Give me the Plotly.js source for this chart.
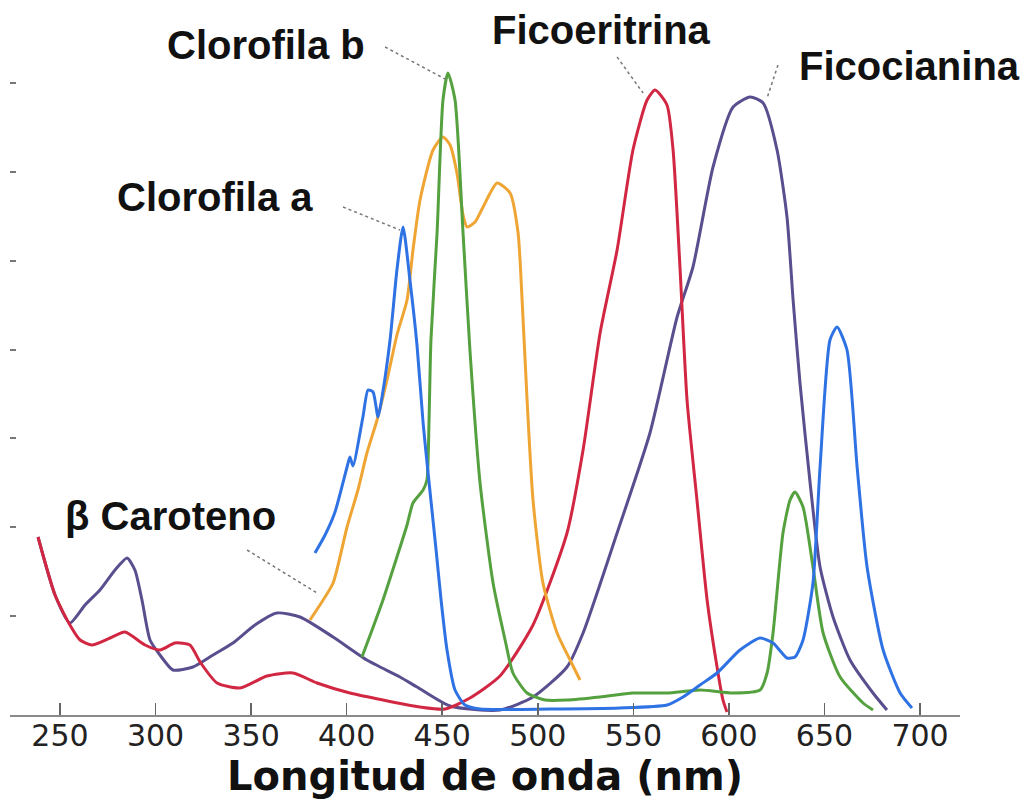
<!DOCTYPE html>
<html>
<head>
<meta charset="utf-8">
<script src="https://cdn.plot.ly/plotly-3.0.1.min.js"></script>
<style>
  html, body { margin: 0; padding: 0; background: #ffffff; }
  #chart { width: 1033px; height: 812px; }
</style>
</head>
<body>
<div id="chart"></div>
<script>
// ---- Data (wavelength in nm, relative absorbance) ----
const tickWavelengths = [250, 300, 350, 400, 450, 500, 550, 600, 650, 700];
const tickLabels = ['250', '300', '350', '400', '450', '500', '550', '600', '650', '700'];
const absTicks = [0.99, 1.88, 2.77, 3.65, 4.54, 5.43, 6.32];

// Clorofila a (blue)
const wlClorofilaA = [383.4, 388.7, 393.9, 400.2, 401.7, 403.3, 408.5, 411.2, 413.8, 416.4, 418.5, 422.7, 426.3, 429.5, 433.1, 436.8, 440.0, 442.6, 446.8, 449.4, 452.5, 456.7, 461.9, 469.8, 506.4, 543.0, 567.6, 576.0, 584.9, 593.8, 605.8, 616.3, 623.1, 630.4, 634.6, 638.8, 644.0, 647.7, 652.9, 656.6, 661.8, 667.1, 672.3, 680.7, 689.6, 695.8];
const absClorofilaA = [1.62, 1.80, 2.03, 2.48, 2.58, 2.49, 2.98, 3.25, 3.23, 2.98, 3.18, 3.75, 4.45, 4.88, 4.35, 3.70, 2.92, 2.42, 1.65, 1.15, 0.65, 0.25, 0.10, 0.06, 0.06, 0.07, 0.10, 0.18, 0.30, 0.42, 0.65, 0.77, 0.72, 0.57, 0.58, 0.75, 1.32, 2.48, 3.75, 3.88, 3.65, 2.48, 1.48, 0.65, 0.22, 0.07];

// Clorofila b (green)
const wlClorofilaB = [408.0, 413.3, 419.0, 425.3, 431.6, 434.7, 440.0, 442.0, 443.1, 444.1, 447.3, 450.4, 453.0, 456.7, 460.9, 464.5, 469.8, 476.6, 482.9, 487.0, 494.4, 503.8, 515.3, 532.6, 549.8, 567.6, 584.9, 602.2, 616.3, 620.0, 623.1, 628.3, 632.0, 634.6, 638.8, 644.0, 649.3, 658.2, 670.2, 675.4];
const absClorofilaB = [0.58, 0.85, 1.15, 1.52, 1.90, 2.12, 2.25, 2.35, 2.95, 3.75, 4.82, 6.15, 6.42, 6.15, 4.82, 3.65, 2.32, 1.32, 0.75, 0.42, 0.22, 0.15, 0.15, 0.18, 0.22, 0.22, 0.25, 0.22, 0.25, 0.42, 0.82, 1.82, 2.15, 2.23, 2.08, 1.48, 0.82, 0.38, 0.12, 0.05];

// Beta caroteno (orange)
const wlCaroteno = [380.8, 386.0, 392.9, 400.2, 405.9, 410.6, 415.9, 421.1, 426.3, 431.6, 434.7, 438.4, 445.2, 450.4, 454.1, 457.7, 460.9, 463.0, 467.2, 471.4, 478.7, 485.5, 489.7, 491.8, 494.4, 497.5, 502.7, 510.1, 516.9, 522.1];
const absCaroteno = [0.95, 1.10, 1.32, 1.88, 2.25, 2.62, 2.95, 3.35, 3.80, 4.15, 4.65, 5.15, 5.65, 5.78, 5.70, 5.42, 5.00, 4.88, 4.93, 5.08, 5.32, 5.22, 4.82, 4.15, 3.15, 2.15, 1.32, 0.82, 0.55, 0.35];

// Ficoeritrina (red)
const wlFicoeritrina = [238.5, 247.4, 255.2, 260.5, 266.7, 276.2, 284.0, 294.5, 302.3, 310.2, 318.0, 323.3, 332.2, 344.2, 358.3, 371.9, 384.5, 401.7, 419.0, 438.4, 451.5, 464.5, 480.2, 497.5, 515.3, 523.7, 532.6, 541.5, 549.8, 557.2, 561.4, 567.6, 570.8, 574.4, 578.1, 583.3, 588.6, 593.8, 596.9, 599.0];
const absFicoeritrina = [1.78, 1.20, 0.90, 0.75, 0.70, 0.77, 0.83, 0.70, 0.65, 0.72, 0.70, 0.53, 0.32, 0.27, 0.39, 0.42, 0.32, 0.22, 0.15, 0.08, 0.06, 0.17, 0.39, 0.90, 1.82, 2.65, 3.82, 4.65, 5.65, 6.15, 6.25, 6.10, 5.65, 4.48, 3.15, 2.15, 1.15, 0.48, 0.15, 0.03];

// Ficocianina (purple)
const wlFicocianina = [238.5, 247.4, 255.2, 263.1, 270.9, 278.8, 285.1, 289.2, 292.9, 297.1, 302.3, 309.1, 319.6, 330.1, 340.5, 352.0, 363.5, 375.6, 392.9, 410.6, 427.9, 436.8, 454.1, 480.2, 497.5, 515.3, 523.7, 541.5, 558.7, 572.9, 581.2, 591.7, 602.2, 611.1, 617.9, 625.2, 630.4, 633.6, 637.2, 642.5, 647.7, 654.5, 663.4, 675.4, 682.7];
const absFicocianina = [1.78, 1.20, 0.92, 1.10, 1.25, 1.45, 1.57, 1.45, 1.15, 0.75, 0.60, 0.45, 0.48, 0.60, 0.72, 0.90, 1.02, 0.98, 0.78, 0.55, 0.38, 0.28, 0.09, 0.05, 0.18, 0.48, 0.82, 1.82, 2.82, 3.98, 4.48, 5.48, 6.08, 6.18, 6.12, 5.65, 4.98, 4.15, 3.32, 2.32, 1.48, 0.98, 0.55, 0.22, 0.05];

// Labels and their leader lines
const labelTexts = ['Clorofila b', 'Clorofila a', 'Ficoeritrina', 'Ficocianina', 'β Caroteno'];
const labelX = [357.8, 331.1, 533.1, 635.7, 307.6];
const labelY = [6.70, 5.18, 6.85, 6.49, 1.99];
const labelAnchor = ['center', 'center', 'center', 'left', 'center'];
const leaderX0 = [420.1, 398.1, 541.5, 625.7, 347.9];
const leaderY0 = [6.68, 5.08, 6.58, 6.50, 1.65];
const leaderX1 = [452.5, 427.9, 555.1, 620.0, 384.5];
const leaderY1 = [6.35, 4.85, 6.22, 6.17, 1.22];

// ---- Build traces ----
function curve(x, y, color, name) {
  return {
    type: 'scatter', mode: 'lines', x: x, y: y, name: name,
    line: { color: color, width: 3, shape: 'spline', smoothing: 0.6 },
    hoverinfo: 'x+y+name'
  };
}
const traces = [
  curve(wlFicocianina, absFicocianina, '#5a4e8e', 'Ficocianina'),
  curve(wlFicoeritrina, absFicoeritrina, '#d22742', 'Ficoeritrina'),
  curve(wlCaroteno, absCaroteno, '#efa534', 'β Caroteno'),
  curve(wlClorofilaB, absClorofilaB, '#55a13f', 'Clorofila b'),
  curve(wlClorofilaA, absClorofilaA, '#2f72e4', 'Clorofila a')
];

const labelFont = { family: 'Liberation Sans, Arial, sans-serif', size: 40, color: '#111111', weight: 'bold' };
const annotations = labelTexts.map((t, i) => ({
  x: labelX[i], y: labelY[i], xref: 'x', yref: 'y', text: t,
  showarrow: false, xanchor: labelAnchor[i], yanchor: 'middle', font: labelFont
}));
const shapes = labelTexts.map((t, i) => ({
  type: 'line', xref: 'x', yref: 'y',
  x0: leaderX0[i], y0: leaderY0[i], x1: leaderX1[i], y1: leaderY1[i],
  line: { color: '#777777', width: 1.5, dash: 'dot' }
}));

const layout = {
  width: 1033, height: 812,
  margin: { l: 10, r: 73, t: 20, b: 97 },
  paper_bgcolor: '#ffffff', plot_bgcolor: '#ffffff',
  showlegend: false,
  xaxis: {
    range: [223.84, 720.93],
    tickvals: tickWavelengths, ticktext: tickLabels,
    ticks: 'inside', ticklen: 12, tickwidth: 1.5, tickcolor: '#666666',
    ticklabelstandoff: -7,
    showline: true, linecolor: '#8a8a8a', linewidth: 1.5,
    showgrid: false, zeroline: false, automargin: false,
    tickfont: { family: 'DejaVu Sans, Verdana, sans-serif', size: 30, color: '#222222' },
    title: { text: 'Longitud de onda (nm)', standoff: 4,
      font: { family: 'DejaVu Sans, Verdana, sans-serif', size: 40, color: '#111111', weight: 'bold' } }
  },
  yaxis: {
    range: [0, 6.95],
    tickvals: absTicks, showticklabels: false,
    ticks: 'inside', ticklen: 6, tickwidth: 1.5, tickcolor: '#777777',
    showline: false, showgrid: false, zeroline: false, automargin: false
  },
  annotations: annotations,
  shapes: shapes
};

Plotly.newPlot('chart', traces, layout, { displayModeBar: false, staticPlot: true });
</script>
</body>
</html>
